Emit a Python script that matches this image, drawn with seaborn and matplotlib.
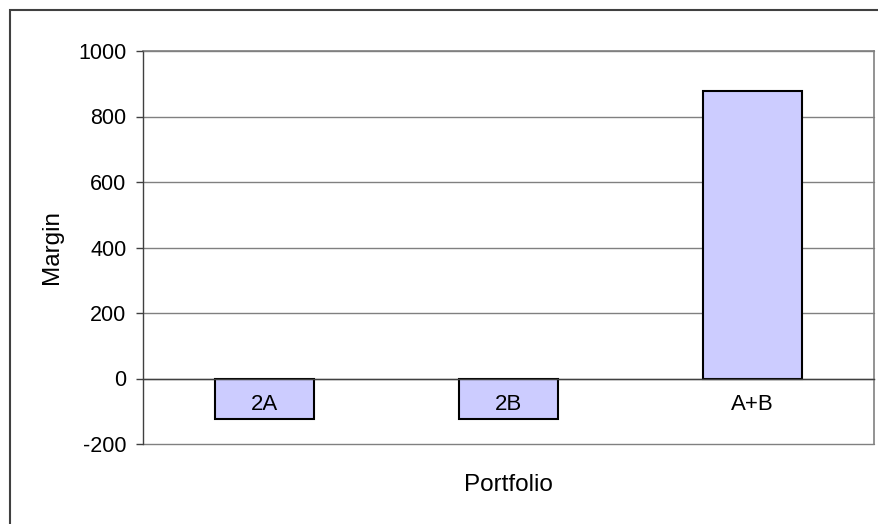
import matplotlib
matplotlib.use("Agg")
import matplotlib.pyplot as plt
import matplotlib.patches as patches
import seaborn as sns

portfolios = ["2A", "2B", "A+B"]
margins = [-125, -125, 878]
y_ticks = [-200, 0, 200, 400, 600, 800, 1000]

sns.set_style("white")
plt.rcParams["font.family"] = ["Liberation Sans", "DejaVu Sans"]
plt.rcParams["text.color"] = "black"
plt.rcParams["axes.labelcolor"] = "black"
plt.rcParams["xtick.color"] = "black"
plt.rcParams["ytick.color"] = "black"

fig = plt.figure(figsize=(8.79, 5.24), dpi=100)
ax = fig.add_axes([143 / 879, 1 - 444 / 524, 731 / 879, 393 / 524])

# gridlines behind the bars, tick labels in front of them
for v in y_ticks:
    ax.axhline(v, color="#808080", linewidth=1.0, zorder=0, clip_on=False)

sns.barplot(x=portfolios, y=margins, color="#CCCCFF", saturation=1,
            edgecolor="black", linewidth=1.5, width=0.405, ax=ax, zorder=1)

ax.set_ylim(-200, 1000)
ax.set_xlim(-0.5, 2.5)
ax.set_yticks(y_ticks)
ax.set_yticklabels([str(v) for v in y_ticks], fontsize=15.5)
ax.set_axisbelow(False)

# category axis crosses at zero, tick marks between categories
ax.spines["bottom"].set_position(("data", 0))
ax.spines["bottom"].set_color("#404040")
ax.spines["bottom"].set_linewidth(1.0)
ax.spines["left"].set_color("#404040")
ax.spines["left"].set_linewidth(1.0)
for s in ["top", "right"]:
    ax.spines[s].set_color("#808080")
    ax.spines[s].set_linewidth(1.2)

ax.set_xticks([0, 1, 2])
ax.set_xticklabels(portfolios, fontsize=16)
ax.set_xticks([-0.5, 0.5, 1.5, 2.5], minor=True)
ax.tick_params(axis="x", which="major", length=0, pad=11)
ax.tick_params(axis="x", which="minor", length=5, width=1, color="#404040", direction="out")
ax.tick_params(axis="y", length=5, width=1, color="#404040", direction="out", pad=7, left=True)

ax.set_xlabel("Portfolio", fontsize=17.5)
ax.set_ylabel("Margin", fontsize=17.5)
ax.xaxis.set_label_coords(0.5, -(485 - 444) / 393)
ax.xaxis.label.set_verticalalignment("center")
ax.yaxis.set_label_coords(-(143 - 52) / 731, 0.5)
ax.yaxis.label.set_verticalalignment("center")

# outer chart border
fig.patches.append(patches.Rectangle((10 / 879, -0.1), 1.0, (514 / 524) + 0.1,
                                     transform=fig.transFigure, fill=False,
                                     edgecolor="#404040", linewidth=1.5))

fig.savefig("out.png", dpi=100)
